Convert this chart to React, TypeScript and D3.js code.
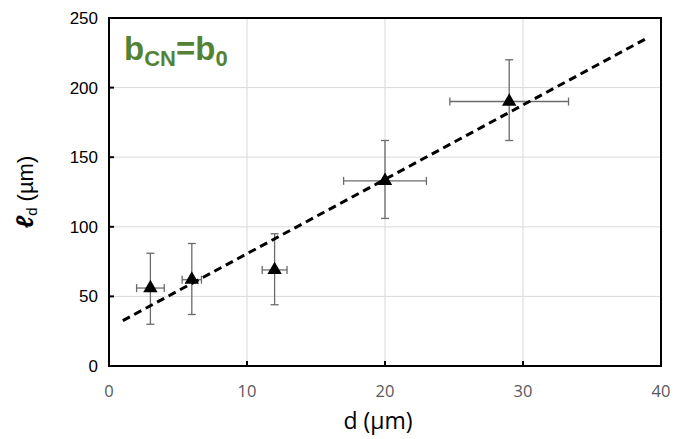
import * as d3 from 'd3'

// measured points (d in µm, ℓd in µm) with error bars
const dVals = [3, 6, 12, 20, 29]
const ldVals = [56, 62, 69, 133, 190]
const ldLow = [30, 37, 44, 106, 162]
const ldHigh = [81, 88, 95, 162, 220]
const dErr = [1.0, 0.7, 0.9, 3.0, 4.3]

// linear fit drawn as dashed line
const fitX = [1, 39]
const fitY = [32.6, 235.6]

const xTicks = [0, 10, 20, 30, 40]
const yTicks = [0, 50, 100, 150, 200, 250]

export default function App() {
  const W = 678
  const H = 439
  const m = { left: 109, right: 17, top: 18, bottom: 73 }

  const x = d3.scaleLinear().domain([0, 40]).range([m.left, W - m.right])
  const y = d3.scaleLinear().domain([0, 250]).range([H - m.bottom, m.top])

  const tri = d3.symbol().type(d3.symbolTriangle).size(90)()
  const fitLine = d3
    .line<number>()
    .x((_, i) => x(fitX[i]))
    .y(d => y(d))(fitY)

  const errColor = '#6b6b6b'
  const cap = 4

  return (
    <svg width={W} height={H} style={{ position: 'absolute', left: 0, top: 0, background: '#fff' }}>
      {/* grid */}
      <g stroke="#d9d9d9" strokeWidth={1}>
        {xTicks.slice(1, -1).map(t => (
          <line key={'gx' + t} x1={x(t)} x2={x(t)} y1={y(0)} y2={y(250)} />
        ))}
        {yTicks.slice(1, -1).map(t => (
          <line key={'gy' + t} x1={x(0)} x2={x(40)} y1={y(t)} y2={y(t)} />
        ))}
      </g>

      {/* frame + inward ticks */}
      <rect x={x(0)} y={y(250)} width={x(40) - x(0)} height={y(0) - y(250)} fill="none" stroke="#000" strokeWidth={2} />
      <g stroke="#000" strokeWidth={2}>
        {xTicks.slice(1, -1).map(t => (
          <line key={'tx' + t} x1={x(t)} x2={x(t)} y1={y(0)} y2={y(0) - 5} />
        ))}
        {yTicks.slice(1, -1).map(t => (
          <line key={'ty' + t} x1={x(0)} x2={x(0) + 5} y1={y(t)} y2={y(t)} />
        ))}
      </g>

      {/* tick labels */}
      <g fontFamily="Liberation Sans, Arial, sans-serif" fontSize={17} fill="#000" textAnchor="end">
        {yTicks.map(t => (
          <text key={'ly' + t} x={x(0) - 11} y={y(t) + 6}>{t}</text>
        ))}
      </g>
      <g fontFamily="Open Sans, sans-serif" fontSize={16.5} fill="#595959" textAnchor="middle">
        {xTicks.map(t => (
          <text key={'lx' + t} x={x(t)} y={y(0) + 31}>{t}</text>
        ))}
      </g>

      {/* error bars */}
      <g stroke={errColor} strokeWidth={1.3}>
        {dVals.map((d, i) => (
          <g key={'e' + i}>
            <line x1={x(d)} x2={x(d)} y1={y(ldLow[i])} y2={y(ldHigh[i])} />
            <line x1={x(d) - cap} x2={x(d) + cap} y1={y(ldLow[i])} y2={y(ldLow[i])} />
            <line x1={x(d) - cap} x2={x(d) + cap} y1={y(ldHigh[i])} y2={y(ldHigh[i])} />
            <line x1={x(d - dErr[i])} x2={x(d + dErr[i])} y1={y(ldVals[i])} y2={y(ldVals[i])} />
            <line x1={x(d - dErr[i])} x2={x(d - dErr[i])} y1={y(ldVals[i]) - cap} y2={y(ldVals[i]) + cap} />
            <line x1={x(d + dErr[i])} x2={x(d + dErr[i])} y1={y(ldVals[i]) - cap} y2={y(ldVals[i]) + cap} />
          </g>
        ))}
      </g>

      {/* fit */}
      <path d={fitLine || ''} fill="none" stroke="#000" strokeWidth={3} strokeDasharray="8 5" />

      {/* markers */}
      {dVals.map((d, i) => (
        <path key={'p' + i} d={tri || ''} transform={`translate(${x(d)},${y(ldVals[i])})`} fill="#000" />
      ))}

      {/* annotation */}
      <text x={124} y={60} fontFamily="Liberation Sans, Arial, sans-serif" fontWeight="bold" fontSize={33} fill="#548235">
        b<tspan fontSize={22} dy={6}>CN</tspan><tspan dy={-6}>=b</tspan><tspan fontSize={22} dy={6}>0</tspan>
      </text>

      {/* axis titles */}
      <text x={378} y={H - 10} textAnchor="middle" fontFamily="Open Sans, sans-serif" fontSize={23} fill="#000">
        d (µm)
      </text>
      <text
        transform={`translate(33,${(y(0) + y(250)) / 2}) rotate(-90)`}
        textAnchor="middle"
        fontFamily="Liberation Sans, Arial, sans-serif"
        fontSize={22}
        fill="#000"
      >
        <tspan fontStyle="italic" fontWeight="bold" fontSize={24}>ℓ</tspan>
        <tspan fontSize={15} dy={4}>d</tspan>
        <tspan dy={-4}> (µm)</tspan>
      </text>
    </svg>
  )
}
